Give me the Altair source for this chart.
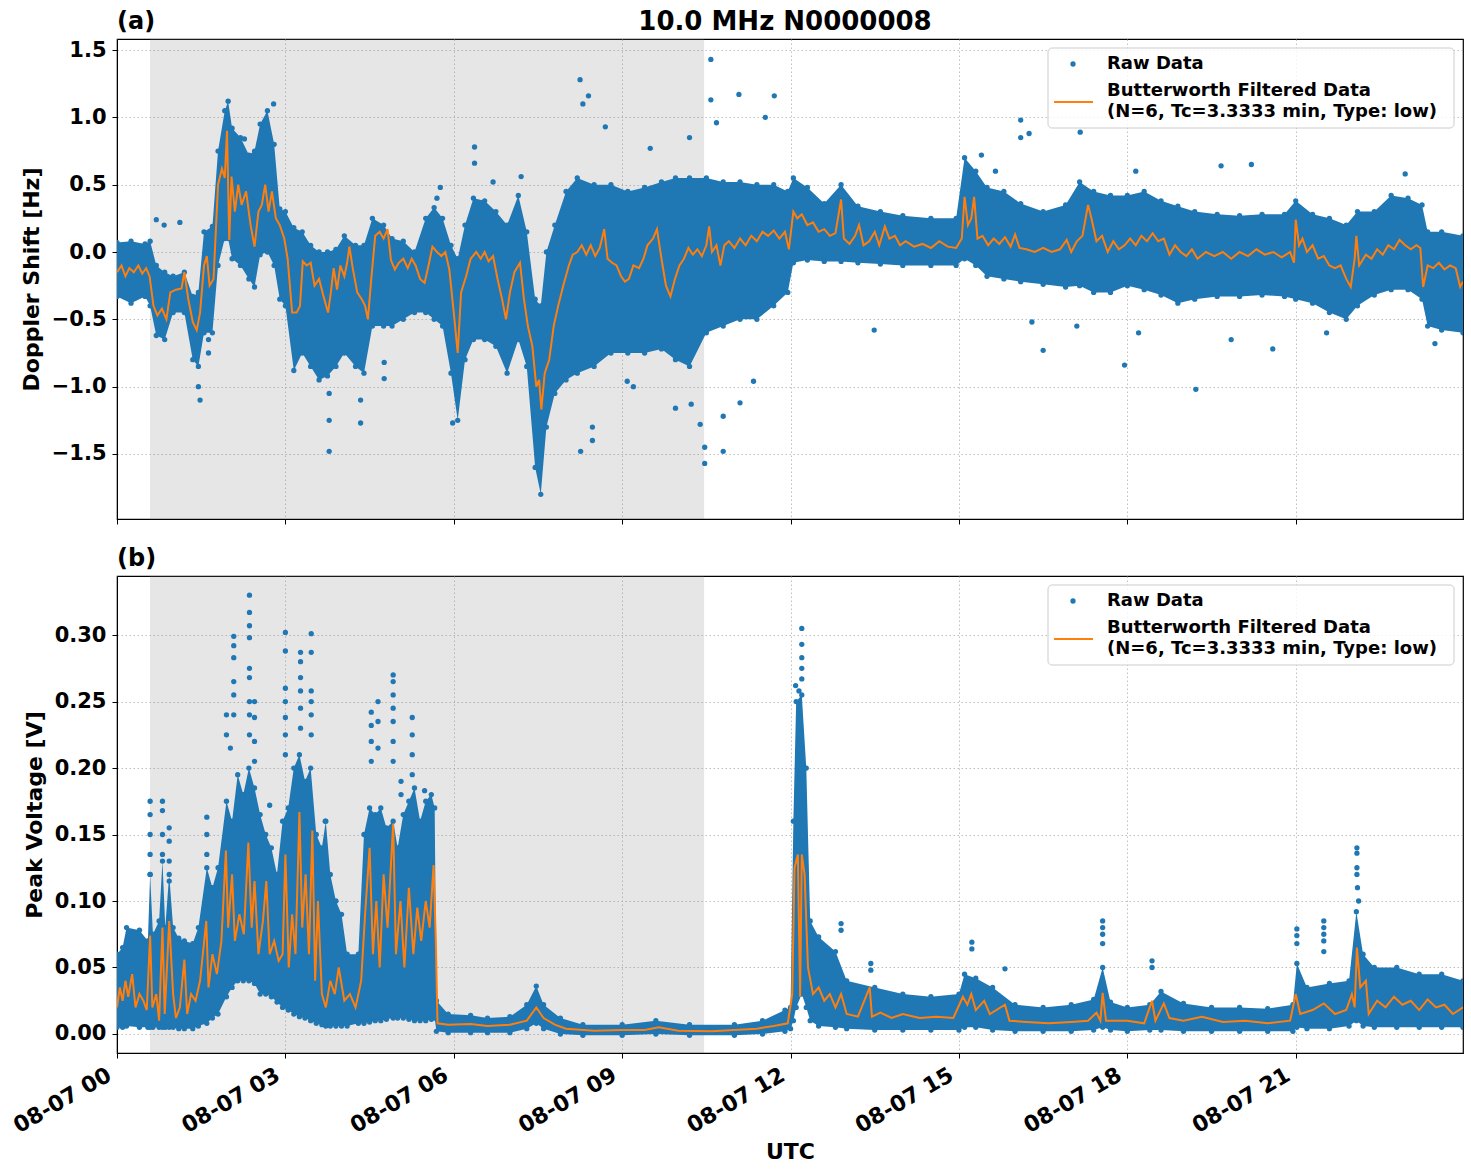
import altair as alt
import pandas as pd

BLUE = "#1f77b4"
ORANGE = "#ff7f0e"
FONT = "DejaVu Sans"
W = 1346
H_TOP = 480
H_BOT = 477
X_MAX = 23.98
X_TICKS = [0, 3, 6, 9, 12, 15, 18, 21]
SHADE_START = [0.588]
SHADE_END = [10.46]

# ---------------- panel (a): Doppler shift [Hz] ----------------
dop_band_t = [0.00, 0.25, 0.50, 0.59, 0.70, 0.85, 1.00, 1.20, 1.35, 1.45, 1.55, 1.70, 1.80, 1.92, 1.98,
              2.05, 2.20, 2.35, 2.45, 2.55, 2.68, 2.80, 2.90, 3.00, 3.15, 3.30, 3.45, 3.60, 3.75, 3.90,
              4.05, 4.25, 4.40, 4.55, 4.75, 4.90, 5.10, 5.30, 5.50, 5.65, 5.80, 5.95, 6.07, 6.20, 6.35,
              6.55, 6.75, 6.95, 7.15, 7.30, 7.45, 7.55, 7.65, 7.80, 8.00, 8.20, 8.50, 8.80, 9.10, 9.40,
              9.70, 9.95, 10.20, 10.50, 10.80, 11.10, 11.40, 11.70, 11.95, 12.05, 12.30, 12.60, 12.90,
              13.20, 13.60, 14.00, 14.50, 14.95, 15.10, 15.30, 15.50, 15.80, 16.10, 16.50, 16.90, 17.15,
              17.40, 17.70, 18.00, 18.30, 18.60, 18.90, 19.20, 19.60, 20.00, 20.40, 20.80, 21.00, 21.30,
              21.60, 21.90, 22.10, 22.40, 22.70, 23.00, 23.25, 23.35, 23.60, 23.98]
dop_band_lo = [-0.33, -0.38, -0.33, -0.40, -0.62, -0.65, -0.45, -0.45, -0.80, -0.85, -0.60, -0.60, -0.10, 0.10, 0.10,
               -0.05, -0.10, -0.20, -0.26, -0.02, 0.00, -0.10, -0.35, -0.40, -0.88, -0.75, -0.85, -0.95, -0.92, -0.85,
               -0.75, -0.85, -0.90, -0.55, -0.55, -0.55, -0.50, -0.45, -0.45, -0.50, -0.55, -0.90, -1.25, -0.80, -0.65,
               -0.65, -0.70, -0.90, -0.65, -0.85, -1.60, -1.80, -1.30, -1.05, -0.95, -0.90, -0.85, -0.75, -0.75, -0.75,
               -0.72, -0.80, -0.85, -0.60, -0.55, -0.50, -0.50, -0.40, -0.30, -0.08, -0.06, -0.07, -0.07,
               -0.08, -0.09, -0.10, -0.10, -0.10, -0.05, -0.10, -0.18, -0.20, -0.22, -0.24, -0.26, -0.25,
               -0.30, -0.30, -0.25, -0.28, -0.32, -0.38, -0.35, -0.33, -0.33, -0.32, -0.33, -0.35, -0.38,
               -0.45, -0.50, -0.40, -0.32, -0.28, -0.28, -0.35, -0.55, -0.58, -0.60]
dop_band_hi = [0.07, 0.08, 0.06, 0.08, -0.10, -0.15, -0.18, -0.15, -0.33, -0.30, 0.15, 0.19, 0.75, 1.05, 1.12,
               0.92, 0.85, 0.72, 0.75, 0.95, 1.05, 0.80, 0.32, 0.30, 0.18, 0.15, 0.05, 0.00, 0.00, 0.02,
               0.12, 0.05, 0.05, 0.25, 0.20, 0.10, 0.08, 0.00, 0.25, 0.33, 0.25, 0.05, -0.05, 0.20, 0.40,
               0.38, 0.30, 0.20, 0.42, 0.15, -0.35, -0.40, 0.00, 0.20, 0.45, 0.55, 0.50, 0.50, 0.45, 0.48,
               0.52, 0.55, 0.55, 0.55, 0.52, 0.52, 0.50, 0.50, 0.45, 0.55, 0.48, 0.36, 0.50,
               0.34, 0.30, 0.27, 0.25, 0.25, 0.70, 0.60, 0.48, 0.45, 0.36, 0.30, 0.35, 0.52,
               0.45, 0.42, 0.42, 0.45, 0.38, 0.34, 0.30, 0.28, 0.27, 0.28, 0.28, 0.38, 0.28,
               0.25, 0.20, 0.30, 0.30, 0.42, 0.40, 0.35, 0.15, 0.15, 0.12]

dop_filt_t = [0.00, 0.08, 0.15, 0.22, 0.30, 0.38, 0.45, 0.52, 0.58, 0.65, 0.72, 0.80, 0.88, 0.95, 1.05, 1.15,
              1.20, 1.27, 1.35, 1.42, 1.48, 1.55, 1.60, 1.65, 1.72, 1.80, 1.87, 1.92, 1.96, 2.00, 2.04, 2.10,
              2.16, 2.22, 2.30, 2.38, 2.45, 2.52, 2.58, 2.64, 2.70, 2.76, 2.83, 2.90, 2.98, 3.04, 3.12, 3.20,
              3.26, 3.31, 3.38, 3.45, 3.52, 3.60, 3.68, 3.76, 3.81, 3.86, 3.92, 3.98, 4.05, 4.10, 4.14, 4.20,
              4.28, 4.36, 4.42, 4.47, 4.53, 4.60, 4.68, 4.75, 4.82, 4.88, 4.95, 5.02, 5.10, 5.18, 5.25, 5.32,
              5.40, 5.48, 5.55, 5.62, 5.70, 5.78, 5.85, 5.92, 6.00, 6.07, 6.13, 6.22, 6.30, 6.40, 6.48, 6.55,
              6.62, 6.70, 6.78, 6.86, 6.93, 7.00, 7.08, 7.18, 7.25, 7.32, 7.40, 7.47, 7.52, 7.56, 7.62, 7.70,
              7.78, 7.86, 7.95, 8.05, 8.12, 8.20, 8.28, 8.36, 8.44, 8.52, 8.60, 8.68, 8.74, 8.82, 8.90, 8.98,
              9.05, 9.12, 9.20, 9.30, 9.38, 9.45, 9.55, 9.62, 9.70, 9.78, 9.86, 9.94, 10.02, 10.10, 10.18,
              10.26, 10.34, 10.42, 10.50, 10.55, 10.60, 10.68, 10.75, 10.82, 10.90, 11.00, 11.10, 11.20,
              11.30, 11.40, 11.50, 11.60, 11.70, 11.80, 11.90, 11.97, 12.05, 12.12, 12.20, 12.30, 12.40,
              12.50, 12.60, 12.70, 12.80, 12.90, 12.95, 13.05, 13.15, 13.22, 13.30, 13.40, 13.50, 13.58,
              13.68, 13.76, 13.86, 13.95, 14.05, 14.20, 14.35, 14.50, 14.65, 14.80, 14.95, 15.05, 15.10,
              15.16, 15.22, 15.27, 15.33, 15.42, 15.52, 15.62, 15.72, 15.82, 15.92, 16.00, 16.08, 16.20,
              16.35, 16.50, 16.65, 16.80, 16.92, 17.00, 17.10, 17.20, 17.30, 17.36, 17.45, 17.55, 17.65,
              17.75, 17.85, 17.95, 18.05, 18.15, 18.25, 18.35, 18.45, 18.55, 18.65, 18.75, 18.85, 18.95,
              19.05, 19.15, 19.25, 19.40, 19.55, 19.70, 19.85, 20.00, 20.15, 20.30, 20.45, 20.60, 20.75,
              20.90, 20.97, 21.00, 21.06, 21.12, 21.20, 21.30, 21.40, 21.50, 21.60, 21.70, 21.80, 21.90,
              21.98, 22.05, 22.08, 22.13, 22.25, 22.35, 22.45, 22.55, 22.65, 22.75, 22.85, 22.95, 23.05,
              23.15, 23.22, 23.27, 23.35, 23.45, 23.55, 23.65, 23.75, 23.85, 23.93, 23.98]
dop_filt_v = [-0.15, -0.10, -0.18, -0.12, -0.15, -0.10, -0.16, -0.12, -0.18, -0.40, -0.47, -0.42, -0.50, -0.30, -0.28, -0.27,
              -0.15, -0.35, -0.52, -0.58, -0.45, -0.10, -0.03, -0.25, -0.20, 0.50, 0.62, 0.55, 0.90, 0.09, 0.56, 0.30,
              0.50, 0.35, 0.45, 0.20, 0.04, 0.30, 0.35, 0.50, 0.30, 0.45, 0.25, 0.20, 0.10, -0.05, -0.45, -0.45,
              -0.40, -0.07, -0.10, -0.08, -0.25, -0.20, -0.33, -0.45, -0.30, -0.12, -0.28, -0.10, -0.18, -0.08, 0.04, -0.12,
              -0.30, -0.35, -0.40, -0.50, -0.20, 0.12, 0.15, 0.10, 0.17, -0.06, -0.13, -0.08, -0.05, -0.12, -0.05, -0.10,
              -0.20, -0.23, -0.10, 0.04, 0.00, -0.03, 0.00, -0.13, -0.45, -0.75, -0.30, -0.18, -0.05, 0.00, -0.05, 0.00,
              -0.07, -0.03, -0.20, -0.35, -0.50, -0.30, -0.15, -0.08, -0.35, -0.55, -0.70, -1.00, -0.95, -1.17, -0.90, -0.80,
              -0.55, -0.40, -0.25, -0.10, -0.02, 0.00, 0.05, -0.02, 0.05, -0.03, 0.03, 0.17, -0.05, -0.08, -0.10, -0.18,
              -0.22, -0.20, -0.10, -0.12, -0.05, 0.05, 0.10, 0.17, -0.05, -0.25, -0.33, -0.20, -0.10, -0.05, 0.03,
              -0.02, 0.02, -0.03, 0.05, 0.19, 0.00, 0.05, -0.10, 0.05, 0.08, 0.03, 0.10, 0.05,
              0.12, 0.08, 0.15, 0.12, 0.16, 0.10, 0.15, 0.02, 0.30, 0.25, 0.28, 0.20, 0.22,
              0.15, 0.17, 0.12, 0.14, 0.39, 0.10, 0.06, 0.12, 0.20, 0.05, 0.08, 0.15, 0.05,
              0.19, 0.10, 0.12, 0.05, 0.08, 0.04, 0.06, 0.03, 0.08, 0.04, 0.03, 0.10, 0.41,
              0.20, 0.25, 0.41, 0.10, 0.12, 0.05, 0.10, 0.06, 0.11, 0.04, 0.13, 0.03, 0.02,
              0.00, 0.03, 0.00, 0.02, 0.09, 0.00, 0.08, 0.12, 0.35, 0.25, 0.08, 0.12, 0.00,
              0.08, 0.02, 0.05, 0.10, 0.05, 0.12, 0.08, 0.14, 0.08, 0.10, -0.02, 0.05, 0.00,
              -0.03, 0.02, -0.05, 0.00, -0.03, 0.00, -0.05, 0.00, -0.03, 0.02, -0.02, 0.00, -0.04,
              0.00, -0.08, 0.24, 0.05, 0.10, 0.00, 0.05, -0.05, -0.03, -0.10, -0.12, -0.10, -0.20,
              -0.26, -0.05, 0.12, -0.10, -0.02, -0.05, 0.02, -0.02, 0.05, 0.02, 0.09, 0.05, 0.02,
              0.05, 0.03, -0.26, -0.10, -0.12, -0.08, -0.13, -0.10, -0.12, -0.26, -0.22]

dop_out_t = [0.70, 0.84, 1.12, 1.45, 1.48, 1.63, 1.63, 2.27, 2.43, 2.79, 3.78, 3.78, 3.78, 4.34, 4.34, 4.76, 4.76,
             5.70, 5.76, 5.98, 6.37, 6.37, 6.70, 7.20, 8.25, 8.30, 8.40, 8.70, 9.50, 10.20, 10.58, 10.58, 10.68,
             11.08, 11.55, 11.71, 8.26, 8.47, 8.47, 9.09, 9.20, 9.95, 10.23, 10.39, 10.47, 10.47, 10.80, 10.80,
             11.10, 11.34, 13.49, 16.10, 16.10, 16.25, 17.16, 17.95, 16.50, 16.30, 17.10, 15.40, 15.65, 18.15,
             18.20, 19.22, 19.67, 20.21, 20.59, 22.95, 23.48, 19.85, 21.55]
dop_out_v = [0.24, 0.20, 0.22, -1.00, -1.10, -0.65, -0.75, 0.84, 0.72, 1.10, -1.48, -1.25, -1.05, -1.27, -1.10, -0.94, -0.82,
             0.40, 0.48, -1.27, 0.78, 0.66, 0.52, 0.56, 1.28, 1.10, 1.16, 0.93, 0.77, 0.85, 1.43, 1.13, 0.96,
             1.17, 1.00, 1.16, -1.48, -1.30, -1.40, -0.96, -1.00, -1.16, -1.13, -1.28, -1.45, -1.57, -1.22, -1.48,
             -1.12, -0.96, -0.58, 0.98, 0.85, 0.88, 0.89, -0.84, -0.73, -0.52, -0.55, 0.72, 0.60, 0.60,
             -0.60, -1.02, 0.64, 0.65, -0.72, 0.58, -0.68, -0.65, -0.60]

# ---------------- panel (b): Peak voltage [V] ----------------
vpk_band_t = [0.00, 0.10, 0.17, 0.40, 0.55, 0.59, 0.64, 0.75, 0.81, 0.86, 0.93, 1.00, 1.10, 1.20, 1.35, 1.45,
              1.60, 1.70, 1.80, 1.95, 2.05, 2.15, 2.25, 2.35, 2.45, 2.55, 2.65, 2.75, 2.85, 2.95, 3.05, 3.15,
              3.25, 3.35, 3.45, 3.55, 3.65, 3.72, 3.80, 3.90, 4.00, 4.10, 4.30, 4.40, 4.50, 4.60, 4.70, 4.80,
              4.92, 5.00, 5.10, 5.20, 5.30, 5.40, 5.50, 5.60, 5.66, 5.69, 5.90,
              6.30, 6.60, 7.00, 7.30, 7.47, 7.60, 7.90, 8.30, 9.00, 9.60, 10.20, 11.00, 11.50, 11.90, 12.00,
              12.05, 12.10, 12.20, 12.28, 12.35, 12.50, 12.80, 13.00, 13.50, 14.00, 14.50, 15.00, 15.10,
              15.30, 15.60, 16.00, 16.50, 17.00, 17.40, 17.56, 17.70, 18.00, 18.40, 18.60, 19.00, 19.50,
              20.00, 20.50, 20.95, 21.02, 21.20, 21.60, 21.95, 22.08, 22.20, 22.40, 22.80, 23.20, 23.60, 23.98]
vpk_band_lo = [0.005, 0.005, 0.006, 0.005, 0.005, 0.005, 0.005, 0.005, 0.005, 0.005, 0.005, 0.005, 0.004, 0.004, 0.004, 0.006,
               0.008, 0.012, 0.015, 0.028, 0.035, 0.040, 0.040, 0.040, 0.038, 0.030, 0.030, 0.028, 0.024, 0.020, 0.018, 0.015,
               0.013, 0.012, 0.010, 0.008, 0.007, 0.006, 0.006, 0.006, 0.006, 0.006, 0.008, 0.008, 0.009, 0.010, 0.010, 0.011,
               0.012, 0.012, 0.012, 0.011, 0.010, 0.010, 0.010, 0.011, 0.012, 0.002, 0.001,
               0.001, 0.001, 0.001, 0.004, 0.008, 0.004, 0.000, -0.001, -0.001, 0.000, -0.001, -0.001, 0.000, 0.002, 0.004,
               0.010, 0.020, 0.030, 0.020, 0.010, 0.006, 0.005, 0.004, 0.003, 0.003, 0.003, 0.003, 0.005,
               0.005, 0.003, 0.002, 0.002, 0.002, 0.003, 0.005, 0.003, 0.002, 0.003, 0.003, 0.002, 0.002,
               0.002, 0.002, 0.002, 0.005, 0.004, 0.004, 0.006, 0.010, 0.006, 0.005, 0.005, 0.005, 0.005, 0.005]
vpk_band_hi = [0.060, 0.065, 0.080, 0.078, 0.070, 0.120, 0.075, 0.085, 0.130, 0.080, 0.120, 0.080, 0.072, 0.070, 0.068, 0.080,
               0.125, 0.110, 0.125, 0.175, 0.160, 0.195, 0.180, 0.200, 0.185, 0.165, 0.150, 0.140, 0.120, 0.160, 0.170, 0.200,
               0.210, 0.190, 0.200, 0.150, 0.140, 0.160, 0.120, 0.100, 0.090, 0.060, 0.060, 0.150, 0.170, 0.165, 0.170, 0.155,
               0.160, 0.140, 0.165, 0.175, 0.185, 0.160, 0.175, 0.180, 0.170, 0.025, 0.015,
               0.014, 0.012, 0.013, 0.022, 0.036, 0.022, 0.012, 0.007, 0.007, 0.010, 0.007, 0.007, 0.010, 0.018, 0.020,
               0.160, 0.250, 0.255, 0.200, 0.085, 0.073, 0.062, 0.040, 0.035, 0.030, 0.028, 0.030, 0.045,
               0.042, 0.035, 0.022, 0.020, 0.022, 0.026, 0.050, 0.024, 0.020, 0.022, 0.032, 0.023, 0.020,
               0.020, 0.019, 0.022, 0.053, 0.035, 0.038, 0.040, 0.092, 0.060, 0.050, 0.050, 0.045, 0.045, 0.040]

vpk_filt_t = [0.00, 0.05, 0.10, 0.15, 0.20, 0.27, 0.33, 0.40, 0.47, 0.53, 0.59, 0.63, 0.70, 0.75, 0.81, 0.85, 0.93,
              1.00, 1.05, 1.12, 1.20, 1.25, 1.32, 1.40, 1.48, 1.59, 1.63, 1.70, 1.78, 1.86, 1.94, 1.98, 2.05,
              2.10, 2.18, 2.26, 2.34, 2.40, 2.45, 2.52, 2.60, 2.66, 2.72, 2.80, 2.88, 2.95, 3.00, 3.06, 3.12,
              3.18, 3.25, 3.30, 3.36, 3.42, 3.48, 3.53, 3.58, 3.65, 3.72, 3.80, 3.88, 3.95, 4.05, 4.15, 4.25,
              4.35, 4.42, 4.50, 4.56, 4.62, 4.68, 4.75, 4.82, 4.92, 4.97, 5.05, 5.12, 5.20, 5.28, 5.35, 5.42,
              5.50, 5.57, 5.64, 5.68, 5.71, 5.90, 6.30, 6.60, 7.00, 7.30, 7.47, 7.60, 7.80, 8.00, 8.50, 9.00,
              9.40, 9.65, 10.00, 10.60, 11.00, 11.40, 11.70, 11.95, 12.03, 12.07, 12.13, 12.17, 12.20, 12.25,
              12.31, 12.40, 12.50, 12.60, 12.70, 12.80, 12.90, 13.00, 13.20, 13.41, 13.45, 13.60, 13.80, 14.00,
              14.30, 14.60, 14.90, 15.07, 15.15, 15.22, 15.30, 15.45, 15.55, 15.82, 15.90, 16.20, 16.60, 17.00,
              17.30, 17.45, 17.52, 17.56, 17.62, 18.00, 18.30, 18.44, 18.50, 18.65, 18.75, 19.00, 19.33, 19.70,
              20.10, 20.50, 20.90, 21.00, 21.08, 21.30, 21.50, 21.70, 21.90, 22.00, 22.05, 22.09, 22.15, 22.25,
              22.30, 22.45, 22.60, 22.75, 22.90, 23.05, 23.20, 23.35, 23.50, 23.65, 23.80, 23.98]
vpk_filt_v = [0.020, 0.035, 0.025, 0.040, 0.028, 0.045, 0.020, 0.030, 0.025, 0.018, 0.074, 0.020, 0.030, 0.010, 0.080, 0.015, 0.085,
              0.030, 0.012, 0.020, 0.056, 0.015, 0.030, 0.025, 0.040, 0.085, 0.035, 0.060, 0.045, 0.070, 0.138, 0.080, 0.120,
              0.070, 0.090, 0.075, 0.144, 0.080, 0.115, 0.060, 0.085, 0.115, 0.060, 0.070, 0.055, 0.060, 0.135, 0.050, 0.090,
              0.060, 0.167, 0.080, 0.120, 0.060, 0.153, 0.040, 0.100, 0.030, 0.020, 0.040, 0.030, 0.050, 0.025, 0.030, 0.020,
              0.040, 0.090, 0.140, 0.060, 0.100, 0.050, 0.120, 0.080, 0.158, 0.060, 0.100, 0.050, 0.110, 0.060, 0.095, 0.070,
              0.100, 0.080, 0.127, 0.070, 0.008, 0.007, 0.0075, 0.006, 0.007, 0.010, 0.020, 0.012, 0.007, 0.004, 0.0025, 0.003,
              0.003, 0.005, 0.0025, 0.002, 0.003, 0.004, 0.006, 0.008, 0.030, 0.125, 0.135, 0.028, 0.135, 0.120,
              0.050, 0.030, 0.035, 0.025, 0.030, 0.020, 0.030, 0.015, 0.013, 0.035, 0.013, 0.016, 0.012, 0.015,
              0.012, 0.013, 0.012, 0.028, 0.022, 0.030, 0.018, 0.025, 0.015, 0.022, 0.010, 0.009, 0.008, 0.009,
              0.010, 0.016, 0.010, 0.031, 0.010, 0.010, 0.008, 0.025, 0.010, 0.023, 0.012, 0.010, 0.013, 0.009,
              0.010, 0.008, 0.010, 0.030, 0.015, 0.018, 0.023, 0.015, 0.018, 0.030, 0.020, 0.065, 0.035, 0.040,
              0.015, 0.025, 0.020, 0.028, 0.022, 0.025, 0.018, 0.026, 0.020, 0.022, 0.015, 0.020]

vpk_out_t = [0.59, 0.59, 0.59, 0.59, 0.59, 0.81, 0.81, 0.81, 0.81, 0.93, 0.93, 0.93, 0.93, 1.60, 1.60, 1.60,
             1.95, 1.95, 2.02, 2.08, 2.08, 2.08, 2.08, 2.08, 2.08, 2.36, 2.36, 2.36, 2.36, 2.36, 2.36, 2.36, 2.36, 2.36,
             2.45, 2.45, 2.45, 2.45, 2.72, 3.00, 3.00, 3.00, 3.00, 3.00, 3.00, 3.00, 3.27, 3.27, 3.27, 3.27, 3.27, 3.27,
             3.46, 3.46, 3.46, 3.46, 3.46, 3.46, 3.71, 4.53, 4.53, 4.53, 4.53, 4.65, 4.65, 4.65,
             4.92, 4.92, 4.92, 4.92, 4.92, 4.92, 4.92, 5.06, 5.06, 5.26, 5.26, 5.26, 5.26, 5.48,
             12.20, 12.20, 12.20, 12.20, 12.20, 12.09, 12.15, 12.90, 12.90, 13.43, 13.43, 15.23, 15.23, 15.82,
             17.56, 17.56, 17.56, 17.56, 18.44, 18.44, 21.02, 21.02, 21.02, 21.50, 21.50, 21.50, 21.50, 21.50,
             22.09, 22.09, 22.09, 22.09, 22.10, 22.12]
vpk_out_v = [0.175, 0.165, 0.150, 0.135, 0.120, 0.175, 0.168, 0.150, 0.135, 0.155, 0.145, 0.130, 0.115, 0.163, 0.150, 0.135,
             0.240, 0.225, 0.215, 0.299, 0.292, 0.283, 0.265, 0.255, 0.240, 0.330, 0.317, 0.307, 0.298, 0.275, 0.268, 0.250, 0.240, 0.225,
             0.250, 0.238, 0.220, 0.205, 0.172, 0.302, 0.288, 0.260, 0.250, 0.238, 0.225, 0.210, 0.287, 0.280, 0.268, 0.258, 0.245, 0.230,
             0.301, 0.287, 0.258, 0.250, 0.240, 0.225, 0.160, 0.242, 0.232, 0.220, 0.205, 0.250, 0.235, 0.215,
             0.270, 0.265, 0.255, 0.245, 0.235, 0.220, 0.205, 0.190, 0.180, 0.238, 0.225, 0.210, 0.195, 0.183,
             0.305, 0.293, 0.283, 0.275, 0.267, 0.262, 0.258, 0.083, 0.078, 0.053, 0.048, 0.069, 0.064, 0.049,
             0.085, 0.080, 0.075, 0.068, 0.055, 0.050, 0.079, 0.074, 0.068, 0.085, 0.080, 0.075, 0.070, 0.062,
             0.140, 0.136, 0.125, 0.120, 0.110, 0.100]

TITLE = "10.0 MHz N0000008"
LEGEND_RAW = "Raw Data"
LEGEND_FILT_1 = "Butterworth Filtered Data"
LEGEND_FILT_2 = "(N=6, Tc=3.3333 min, Type: low)"


def panel(band_t, band_lo, band_hi, filt_t, filt_v, out_t, out_v,
          ydomain, yticks, yfmt, ytitle, height, tag, bottom, main_title=None):
    band = pd.DataFrame({"t": band_t, "lo": band_lo, "hi": band_hi})
    edges = pd.DataFrame({"t": band_t + band_t, "v": band_lo + band_hi})
    filt = pd.DataFrame({"t": filt_t, "v": filt_v})
    outl = pd.DataFrame({"t": out_t, "v": out_v})
    shade = pd.DataFrame({"x0": SHADE_START, "x1": SHADE_END})
    one = pd.DataFrame({"k": [0]})

    xscale = alt.Scale(domain=[0, X_MAX], nice=False, zero=False)
    if bottom:
        xaxis = alt.Axis(values=X_TICKS, grid=True, title="UTC",
                         labelExpr="'08-07 ' + (datum.value < 10 ? '0' : '') + datum.value",
                         labelAngle=330, labelAlign="right", labelBaseline="top",
                         labelFontSize=22, labelPadding=6, labelOffset=-13, titlePadding=5)
    else:
        xaxis = alt.Axis(values=X_TICKS, grid=True, labels=False, title=None)
    yscale = alt.Scale(domain=ydomain, nice=False, zero=False)
    yaxis = alt.Axis(values=yticks, format=yfmt, grid=True, title=ytitle)

    def X(f):
        return alt.X(f, type="quantitative", scale=xscale, axis=xaxis, title="UTC" if bottom else None)

    def Y(f):
        return alt.Y(f, type="quantitative", scale=yscale, axis=yaxis, title=ytitle)

    shade_l = alt.Chart(shade).mark_rect(color="gray", opacity=0.2).encode(
        x=X("x0"), x2="x1", y=alt.value(0), y2=alt.value(height))
    band_l = alt.Chart(band).mark_area(color=BLUE, opacity=1, clip=True).encode(
        x=X("t"), y=Y("lo"), y2="hi")
    edge_l = alt.Chart(edges).mark_circle(color=BLUE, opacity=1, size=28, clip=True).encode(
        x=X("t"), y=Y("v"))
    out_l = alt.Chart(outl).mark_circle(color=BLUE, opacity=1, size=28, clip=True).encode(
        x=X("t"), y=Y("v"))
    line_l = alt.Chart(filt).mark_line(color=ORANGE, strokeWidth=2, clip=True).encode(
        x=X("t"), y=Y("v"))

    base = alt.Chart(one)
    box = base.mark_rect(fill="white", fillOpacity=0.8, stroke="#cccccc", strokeWidth=1,
                         cornerRadius=4).encode(
        x=alt.value(931), x2=alt.value(1337), y=alt.value(9), y2=alt.value(89))
    dot = base.mark_circle(color=BLUE, opacity=1, size=28).encode(
        x=alt.value(956), y=alt.value(25))
    seg = base.mark_rule(color=ORANGE, strokeWidth=2).encode(
        x=alt.value(937), x2=alt.value(976), y=alt.value(63))
    tstyle = dict(font=FONT, fontWeight="bold", fontSize=18, align="left",
                  baseline="middle", color="black")
    t1 = base.mark_text(text=LEGEND_RAW, **tstyle).encode(x=alt.value(990), y=alt.value(25))
    t2 = base.mark_text(text=LEGEND_FILT_1, **tstyle).encode(x=alt.value(990), y=alt.value(52))
    t3 = base.mark_text(text=LEGEND_FILT_2, **tstyle).encode(x=alt.value(990), y=alt.value(73))
    lab = base.mark_text(text=tag, font=FONT, fontWeight="bold", fontSize=24, align="left",
                         baseline="alphabetic", color="black").encode(
        x=alt.value(0), y=alt.value(-10))
    layers = [shade_l, band_l, edge_l, out_l, line_l, box, dot, seg, t1, t2, t3, lab]
    if main_title:
        mt = base.mark_text(text=main_title, font=FONT, fontWeight="bold", fontSize=26,
                            align="center", baseline="alphabetic", color="black").encode(
            x=alt.value(668), y=alt.value(-9))
        layers.append(mt)
    return alt.layer(*layers).properties(width=W, height=height)


top = panel(dop_band_t, dop_band_lo, dop_band_hi, dop_filt_t, dop_filt_v, dop_out_t, dop_out_v,
            [-1.983, 1.582], [-1.5, -1.0, -0.5, 0.0, 0.5, 1.0, 1.5], ".1f", "Doppler Shift [Hz]",
            H_TOP, "(a)", False, TITLE)
bot = panel(vpk_band_t, vpk_band_lo, vpk_band_hi, vpk_filt_t, vpk_filt_v, vpk_out_t, vpk_out_v,
            [-0.0143, 0.3444], [0.0, 0.05, 0.10, 0.15, 0.20, 0.25, 0.30], ".2f", "Peak Voltage [V]",
            H_BOT, "(b)", True)

chart = alt.vconcat(top, bot, spacing=20).properties(
    padding={"left": 8, "top": 8, "right": 5, "bottom": 5}
).configure_axis(
    labelFont=FONT, titleFont=FONT, labelFontWeight="bold", titleFontWeight="bold",
    labelFontSize=21, titleFontSize=22, labelColor="black", titleColor="black",
    tickColor="black", domainColor="black", tickSize=5, labelPadding=6, titlePadding=8,
    gridColor="#b0b0b0", gridDash=[1.5, 2.5], gridWidth=0.8
).configure_view(stroke="black", strokeWidth=1.2)

chart.save("out.html", embed_options={"renderer": "svg", "actions": False})
